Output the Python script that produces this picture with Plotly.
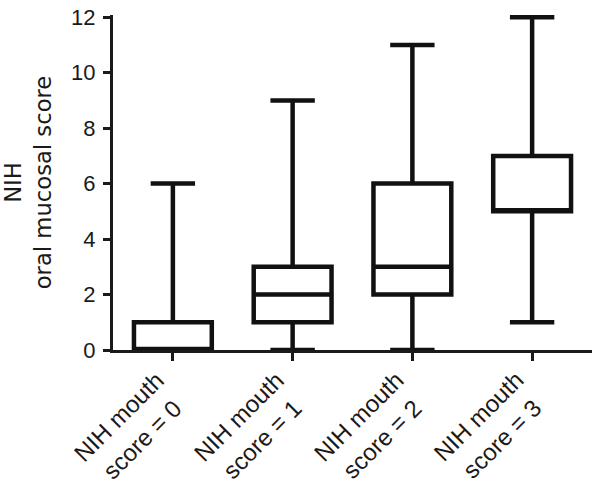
import plotly.graph_objects as go

categories = ["NIH mouth<br>score = 0", "NIH mouth<br>score = 1",
              "NIH mouth<br>score = 2", "NIH mouth<br>score = 3"]
minimum = [0, 0, 0, 1]
q1 = [0, 1, 2, 5]
median = [0, 2, 3, 5]
q3 = [1, 3, 6, 7]
maximum = [6, 9, 11, 12]
y_ticks = [0, 2, 4, 6, 8, 10, 12]

FONT = "Liberation Sans, Arial, Helvetica, sans-serif"
TITLE_FONT = "DejaVu Sans, Liberation Sans, Arial, sans-serif"
INK = "#1a1a1a"

fig = go.Figure()
fig.add_trace(go.Box(
    x=categories, q1=q1, median=median, q3=q3,
    lowerfence=minimum, upperfence=maximum,
    fillcolor="white",
    line=dict(color="#111111", width=4.5),
    width=0.65, whiskerwidth=0.57,
    boxpoints=False, showlegend=False, hoverinfo="skip",
))

# category labels: rotated 45 degrees, each line placed under its tick
line_offsets = [(-54, -66), (-31, -89)]
for c in categories:
    for (dx, dy), part in zip(line_offsets, c.split("<br>")):
        fig.add_annotation(
            x=c, xref="x", y=0, yref="paper",
            text=part, textangle=-45,
            xanchor="center", yanchor="middle",
            xshift=dx, yshift=dy,
            showarrow=False, font=dict(size=24, color=INK),
        )

fig.update_layout(
    width=602, height=487,
    margin=dict(l=113, r=10, t=15, b=137, autoexpand=False),
    paper_bgcolor="white", plot_bgcolor="white",
    font=dict(family=FONT, size=22, color=INK),
)
fig.update_xaxes(
    type="category", range=[-0.5, 3.5], automargin=False,
    showline=True, linewidth=3, linecolor=INK,
    ticks="outside", ticklen=8, tickwidth=3, tickcolor=INK,
    showticklabels=False,
    showgrid=False, zeroline=False,
)
fig.update_yaxes(
    range=[0, 12.08], tickvals=y_ticks, ticktext=[str(v) for v in y_ticks],
    automargin=False, ticklabeloverflow="allow",
    showline=True, linewidth=3, linecolor=INK,
    ticks="outside", ticklen=7, tickwidth=3, tickcolor=INK,
    tickfont=dict(size=22), ticklabelstandoff=3,
    title=dict(text="NIH<br>oral mucosal score",
               font=dict(size=22.7, family=TITLE_FONT), standoff=17),
    showgrid=False, zeroline=False,
)

# remove the page's default body margin so the figure fills the window exactly
fig.write_html("out.html", config={"displayModeBar": False},
               post_script="document.body.style.margin='0';")
